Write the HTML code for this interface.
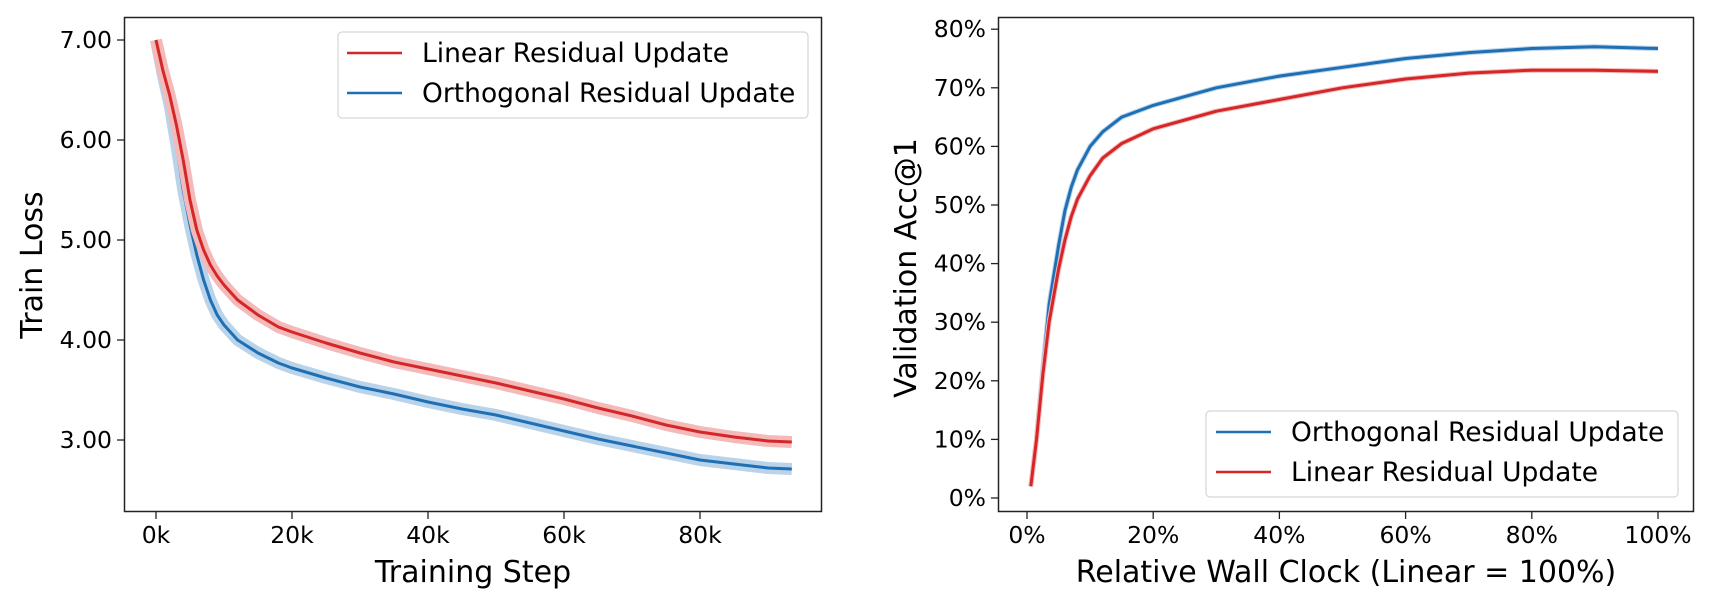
<!DOCTYPE html>
<html><head><meta charset="utf-8"><style>
body{margin:0;background:#fff;}
svg text{font-family:"DejaVu Sans","Liberation Sans",sans-serif;fill:#000;}
</style></head><body>
<svg id="chart" width="1714" height="600" xmlns="http://www.w3.org/2000/svg">
<g id="left"></g>
<g id="right"></g>
</svg>
<script>
// Left chart data (x in k steps)
const lossSteps = [0,1,2,3,4,5,6,7,8,9,10,12,15,18,20,25,30,35,40,45,50,55,60,65,70,75,80,85,90,93.5];
const lossLinear = [7.0,6.7,6.45,6.15,5.8,5.4,5.1,4.9,4.75,4.64,4.55,4.4,4.25,4.13,4.08,3.97,3.87,3.78,3.71,3.64,3.57,3.49,3.41,3.32,3.24,3.15,3.08,3.03,2.99,2.98];
const lossOrtho  = [7.0,6.65,6.35,5.95,5.5,5.15,4.85,4.6,4.4,4.25,4.15,4.0,3.87,3.77,3.72,3.62,3.53,3.46,3.38,3.31,3.25,3.17,3.09,3.01,2.94,2.87,2.8,2.76,2.72,2.71];
const lossXTicks = [0,20,40,60,80];
const lossXLabels = ["0k","20k","40k","60k","80k"];
const lossYTicks = [3,4,5,6,7];
const lossYLabels = ["3.00","4.00","5.00","6.00","7.00"];
// Right chart data (x in % wall clock)
const accX = [0.6,1.5,2.5,3.5,5,6,7,8,10,12,15,20,25,30,40,50,60,70,80,90,100];
const accOrtho  = [2,10,22,33,43,49,53,56,60,62.5,65,67,68.5,70,72,73.5,75,76,76.7,77,76.7];
const accLinear = [2,10,21,30,39,44,48,51,55,58,60.5,63,64.5,66,68,70,71.5,72.5,73,73,72.8];
const accXTicks = [0,20,40,60,80,100];
const accXLabels = ["0%","20%","40%","60%","80%","100%"];
const accYTicks = [0,10,20,30,40,50,60,70,80];
const accYLabels = ["0%","10%","20%","30%","40%","50%","60%","70%","80%"];

const NS="http://www.w3.org/2000/svg";
function mk(p,tag,attrs){const e=document.createElementNS(NS,tag);for(const k in attrs)e.setAttribute(k,attrs[k]);p.appendChild(e);return e;}
const TF=23.5, AF=30, LF=26.5;

// Left axes
const L=document.getElementById('left');
const lx=v=>156+v*6.8, ly=v=>40+(7-v)*100;
let frame=mk(L,'rect',{x:124.5,y:17.5,width:697,height:494,fill:'none',stroke:'#222','stroke-width':1.5});


lossXTicks.forEach((t,i)=>{
  mk(L,'line',{x1:lx(t),x2:lx(t),y1:512,y2:519,stroke:'#222','stroke-width':1.3});
  const tx=mk(L,'text',{x:lx(t),y:543,'font-size':TF,'text-anchor':'middle'});tx.textContent=lossXLabels[i];
  
  
});
lossYTicks.forEach((t,i)=>{
  mk(L,'line',{x1:117,x2:124,y1:ly(t),y2:ly(t),stroke:'#222','stroke-width':1.3});
  const tx=mk(L,'text',{x:112,y:ly(t)+8,'font-size':TF,'text-anchor':'end'});tx.textContent=lossYLabels[i];
  
  
});
let t1=mk(L,'text',{x:473,y:582,'font-size':AF,'text-anchor':'middle'});t1.textContent='Training Step';


let t2=mk(L,'text',{x:0,y:0,'font-size':AF,'text-anchor':'middle',transform:'translate(42,265) rotate(-90)'});t2.textContent='Train Loss';


function series(g,xs,ys,fx,fy,col,light,name,bw){
  const pts=xs.map((x,i)=>fx(x).toFixed(1)+','+fy(ys[i]).toFixed(1)).join(' ');
  const b=mk(g,'polyline',{points:pts,fill:'none',stroke:light,'stroke-width':bw,'stroke-linejoin':'round'});
  
  
  const l=mk(g,'polyline',{points:pts,fill:'none',stroke:col,'stroke-width':3,'stroke-linejoin':'round'});
  
  
}
series(L,lossSteps,lossOrtho,lx,ly,'#1f6fb4','#b9d3ea','orthogonal-loss',12);
series(L,lossSteps,lossLinear,lx,ly,'#d62728','#f4b9b9','linear-loss',12);
// left legend
const lg=mk(L,'g',{});


mk(lg,'rect',{x:338,y:32,width:470,height:86,rx:4,fill:'#fff','fill-opacity':0.85,stroke:'#ccc','stroke-width':1});
mk(lg,'line',{x1:347,x2:402,y1:53,y2:53,stroke:'#d62728','stroke-width':2.5});
mk(lg,'line',{x1:347,x2:402,y1:93,y2:93,stroke:'#1f6fb4','stroke-width':2.5});
let le1=mk(lg,'text',{x:422,y:62,'font-size':LF});le1.textContent='Linear Residual Update';


let le2=mk(lg,'text',{x:422,y:102,'font-size':LF});le2.textContent='Orthogonal Residual Update';



// Right axes
const R=document.getElementById('right');
const rx=v=>1027+v*6.31, ry=v=>498-v*5.86;
let frame2=mk(R,'rect',{x:998.5,y:17.5,width:695,height:494,fill:'none',stroke:'#222','stroke-width':1.5});


accXTicks.forEach((t,i)=>{
  mk(R,'line',{x1:rx(t),x2:rx(t),y1:512,y2:519,stroke:'#222','stroke-width':1.3});
  const tx=mk(R,'text',{x:rx(t),y:543,'font-size':TF,'text-anchor':'middle'});tx.textContent=accXLabels[i];
  
  
});
accYTicks.forEach((t,i)=>{
  mk(R,'line',{x1:991,x2:998,y1:ry(t),y2:ry(t),stroke:'#222','stroke-width':1.3});
  const tx=mk(R,'text',{x:986,y:ry(t)+8,'font-size':TF,'text-anchor':'end'});tx.textContent=accYLabels[i];
  
  
});
let t3=mk(R,'text',{x:1346,y:582,'font-size':AF,'text-anchor':'middle'});t3.textContent='Relative Wall Clock (Linear = 100%)';


let t4=mk(R,'text',{x:0,y:0,'font-size':AF,'text-anchor':'middle',transform:'translate(916,268) rotate(-90)'});t4.textContent='Validation Acc@1';


series(R,accX,accOrtho,rx,ry,'#1f6fb4','#b9d3ea','orthogonal-accuracy',5);
series(R,accX,accLinear,rx,ry,'#d62728','#f4b9b9','linear-accuracy',5);
const rg=mk(R,'g',{});


mk(rg,'rect',{x:1206,y:411,width:472,height:86,rx:4,fill:'#fff','fill-opacity':0.85,stroke:'#ccc','stroke-width':1});
mk(rg,'line',{x1:1216,x2:1271,y1:432,y2:432,stroke:'#1f6fb4','stroke-width':2.5});
mk(rg,'line',{x1:1216,x2:1271,y1:472,y2:472,stroke:'#d62728','stroke-width':2.5});
let re1=mk(rg,'text',{x:1291,y:441,'font-size':LF});re1.textContent='Orthogonal Residual Update';


let re2=mk(rg,'text',{x:1291,y:481,'font-size':LF});re2.textContent='Linear Residual Update';


</script>
</body></html>
